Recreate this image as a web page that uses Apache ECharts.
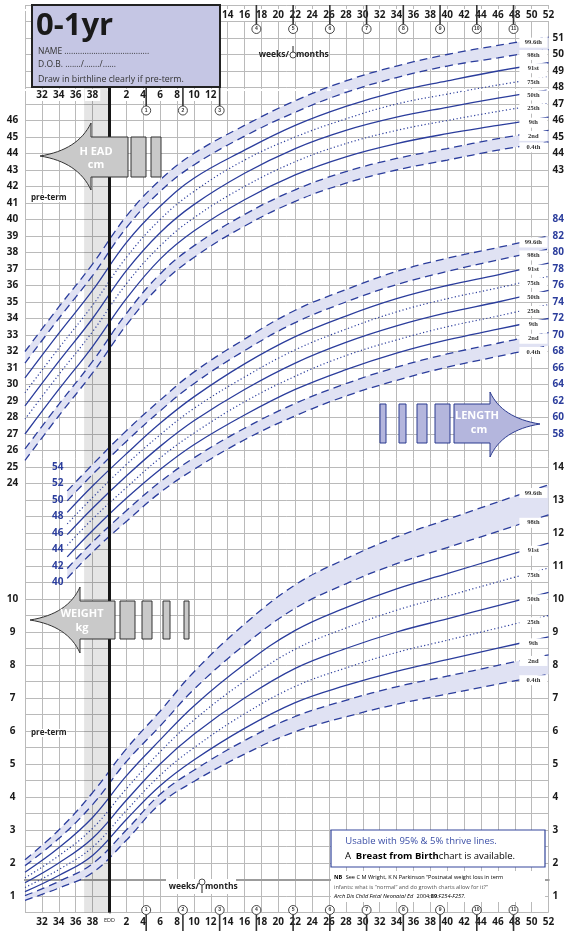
<!DOCTYPE html>
<html>
<head>
<meta charset="utf-8">
<script src="https://cdn.jsdelivr.net/npm/echarts@6/dist/echarts.min.js"></script>
<style>
html,body{margin:0;padding:0;background:#fff}
#chart{width:567px;height:931px}
</style>
</head>
<body>
<div id="chart"></div>
<script>
// Ages in weeks relative to the expected date of delivery (negative = pre-term)
const headWeeks   = [-10, -6, -2, 2, 6, 10, 16, 22, 28, 34, 40, 46, 52];
const lengthWeeks = [-5, -2, 2, 6, 10, 16, 22, 28, 34, 40, 46, 52];
const weightWeeks = [-10, -6, -2, 2, 6, 10, 16, 22, 28, 34, 40, 46, 52];

const centileNames = ['0.4th', '2nd', '9th', '25th', '50th', '75th', '91st', '98th', '99.6th'];

// Head circumference centiles (cm)
const headC04  = [25.4, 28.1, 30.7, 33.6, 36.0, 37.7, 39.6, 41.1, 42.2, 43.0, 43.6, 44.2, 44.7];
const headC2   = [26.1, 28.8, 31.4, 34.3, 36.7, 38.4, 40.3, 41.8, 42.9, 43.7, 44.3, 44.9, 45.4];
const headC9   = [27.0, 29.7, 32.3, 35.2, 37.6, 39.3, 41.2, 42.7, 43.8, 44.6, 45.2, 45.7, 46.2];
const headC25  = [27.9, 30.6, 33.2, 36.1, 38.4, 40.1, 42.0, 43.5, 44.6, 45.4, 46.0, 46.55, 47.05];
const headC50  = [28.7, 31.4, 34.0, 36.9, 39.2, 40.9, 42.8, 44.3, 45.4, 46.2, 46.8, 47.35, 47.85];
const headC75  = [29.5, 32.2, 34.8, 37.7, 40.0, 41.7, 43.6, 45.0, 46.1, 47.0, 47.6, 48.15, 48.65];
const headC91  = [30.4, 33.1, 35.7, 38.6, 40.8, 42.5, 44.2, 45.7, 46.85, 47.75, 48.4, 49.0, 49.5];
const headC98  = [31.3, 34.0, 36.6, 39.5, 41.7, 43.3, 45.05, 46.5, 47.7, 48.6, 49.3, 49.8, 50.3];
const headC996 = [32.0, 34.7, 37.3, 40.2, 42.4, 44.0, 45.7, 47.2, 48.4, 49.3, 50.0, 50.55, 51.05];

// Length centiles (cm)
const lengthC04  = [40.5, 43.7, 47.4, 50.9, 53.7, 57.3, 60.2, 62.6, 64.5, 66.1, 67.4, 68.7];
const lengthC2   = [41.7, 44.9, 48.7, 52.2, 55.1, 58.7, 61.7, 64.1, 66.1, 67.7, 69.0, 70.3];
const lengthC9   = [43.1, 46.3, 50.2, 53.7, 56.7, 60.3, 63.4, 65.8, 67.8, 69.4, 70.7, 72.0];
const lengthC25  = [44.5, 47.7, 51.5, 55.1, 58.1, 61.9, 65.0, 67.5, 69.4, 71.0, 72.3, 73.7];
const lengthC50  = [45.8, 49.0, 52.9, 56.5, 59.6, 63.4, 66.6, 69.1, 71.1, 72.7, 74.0, 75.4];
const lengthC75  = [47.1, 50.3, 54.3, 57.9, 61.1, 64.9, 68.2, 70.7, 72.8, 74.4, 75.7, 77.1];
const lengthC91  = [48.5, 51.7, 55.6, 59.3, 62.5, 66.5, 69.8, 72.3, 74.4, 76.0, 77.3, 78.7];
const lengthC98  = [49.9, 53.1, 57.1, 60.8, 64.1, 68.1, 71.5, 74.0, 76.1, 77.7, 79.1, 80.4];
const lengthC996 = [51.1, 54.3, 58.4, 62.1, 65.5, 69.5, 73.0, 75.5, 77.7, 79.3, 80.6, 82.0];

// Weight centiles (kg)
const weightC04  = [0.87, 1.24, 1.71, 2.69, 3.79, 4.47, 5.30, 5.98, 6.43, 6.81, 7.12, 7.42, 7.72];
const weightC2   = [1.01, 1.44, 1.98, 3.00, 4.08, 4.81, 5.71, 6.44, 6.93, 7.34, 7.66, 7.99, 8.31];
const weightC9   = [1.13, 1.62, 2.23, 3.32, 4.34, 5.12, 6.08, 6.86, 7.38, 7.81, 8.16, 8.51, 8.85];
const weightC25  = [1.26, 1.80, 2.48, 3.59, 4.66, 5.49, 6.52, 7.35, 7.91, 8.38, 8.75, 9.12, 9.50];
const weightC50  = [1.40, 2.00, 2.75, 3.90, 5.00, 5.90, 7.00, 7.90, 8.50, 9.00, 9.40, 9.80, 10.20];
const weightC75  = [1.55, 2.22, 3.05, 4.25, 5.37, 6.33, 7.51, 8.48, 9.12, 9.66, 10.09, 10.52, 10.94];
const weightC91  = [1.72, 2.46, 3.38, 4.64, 5.73, 6.76, 8.02, 9.05, 9.74, 10.31, 10.77, 11.23, 11.69];
const weightC98  = [1.92, 2.74, 3.77, 5.07, 6.15, 7.26, 8.61, 9.72, 10.46, 11.07, 11.56, 12.05, 12.55];
const weightC996 = [2.10, 3.00, 4.13, 5.46, 6.60, 7.79, 9.24, 10.43, 11.22, 11.88, 12.41, 12.94, 13.46];

// Month marks on the week scale
const monthWeeks = [4.35, 8.7, 13.05, 17.4, 21.75, 26.1, 30.45, 34.8, 39.15, 43.5, 47.85];

const BLUE = '#2b3d9c';
const BAND = '#e0e2f3';
const GRID = '#bababa';
const FONT = '"Open Sans", "DejaVu Sans", sans-serif';
const SMOOTH = 0.4;

const lineKinds = ['dashed', 'dashed', 'solid', 'dotted', 'solid', 'dotted', 'solid', 'dashed', 'dashed'];

function pairs(weeks, vals) { return weeks.map((w, i) => [w, vals[i]]); }

function lineStyleFor(kind) {
  if (kind === 'dashed') return { color: BLUE, width: 1.3, type: [8, 5] };
  if (kind === 'dotted') return { color: BLUE, width: 1.2, type: [1.2, 2.4] };
  return { color: BLUE, width: 1.3, type: 'solid' };
}

// Same bezier construction the line series uses for `smooth`, flattened to points
function flattenSmooth(pts, smooth) {
  const out = [pts[0]];
  let cp0 = pts[0].slice();
  for (let k = 1; k < pts.length; k++) {
    const [x, y] = pts[k];
    const [px, py] = pts[k - 1];
    let vx = 0, vy = 0, ratio = 0.5, cp1;
    if (k === pts.length - 1) {
      cp1 = [x, y];
    } else {
      const [nx, ny] = pts[k + 1];
      vx = nx - px; vy = ny - py;
      const l0 = Math.hypot(x - px, y - py), l1 = Math.hypot(nx - x, ny - y);
      ratio = l1 / (l0 + l1);
      cp1 = [x - vx * smooth * (1 - ratio), y - vy * smooth * (1 - ratio)];
    }
    for (let s = 1; s <= 14; s++) {
      const t = s / 14, u = 1 - t;
      out.push([
        u * u * u * px + 3 * u * u * t * cp0[0] + 3 * u * t * t * cp1[0] + t * t * t * x,
        u * u * u * py + 3 * u * u * t * cp0[1] + 3 * u * t * t * cp1[1] + t * t * t * y
      ]);
    }
    cp0 = [x + vx * smooth * ratio, y + vy * smooth * ratio];
  }
  return out;
}

function centileSeries(prefix, weeks, sets, yAxisIndex) {
  const out = [];
  // shaded bands 0.4th-2nd and 98th-99.6th
  out.push({
    type: 'custom', xAxisIndex: 0, yAxisIndex, silent: true, z: 2, clip: true,
    data: [[weeks[0], sets[0][0], 0], [weeks[0], sets[7][0], 1]],
    renderItem(params, api) {
      const [lo, hi] = api.value(2) === 0 ? [sets[0], sets[1]] : [sets[7], sets[8]];
      const upper = flattenSmooth(weeks.map((w, i) => api.coord([w, hi[i]])), SMOOTH);
      const lower = flattenSmooth(weeks.map((w, i) => api.coord([w, lo[i]])), SMOOTH);
      return { type: 'polygon', shape: { points: upper.concat(lower.reverse()) }, style: { fill: BAND } };
    }
  });
  sets.forEach((vals, i) => {
    out.push({
      type: 'line', name: prefix + centileNames[i], xAxisIndex: 0, yAxisIndex, smooth: SMOOTH,
      symbol: 'none', silent: true, z: 3, lineStyle: lineStyleFor(lineKinds[i]), data: pairs(weeks, vals)
    });
  });
  // centile name tags near the right edge
  const tagWeek = 50.2;
  out.push({
    type: 'custom', xAxisIndex: 0, yAxisIndex, silent: true, z: 6,
    data: sets.map((vals, i) => {
      const n = weeks.length;
      const v = vals[n - 2] + (vals[n - 1] - vals[n - 2]) * (tagWeek - weeks[n - 2]) / (weeks[n - 1] - weeks[n - 2]);
      return [tagWeek, v, i];
    }),
    renderItem(params, api) {
      const p = api.coord([api.value(0), api.value(1)]);
      const y = p[1] + 3;
      return {
        type: 'group', children: [
          { type: 'rect', shape: { x: p[0] - 14, y: y - 5, width: 28, height: 10 }, style: { fill: '#fff' } },
          { type: 'text', style: { x: p[0], y: y, text: centileNames[api.value(2)], align: 'center', verticalAlign: 'middle',
              font: 'bold 6.5px "Liberation Serif", serif', fill: '#333' } }
        ]
      };
    }
  });
  return out;
}

const headSets   = [headC04, headC2, headC9, headC25, headC50, headC75, headC91, headC98, headC996];
const lengthSets = [lengthC04, lengthC2, lengthC9, lengthC25, lengthC50, lengthC75, lengthC91, lengthC98, lengthC996];
const weightSets = [weightC04, weightC2, weightC9, weightC25, weightC50, weightC75, weightC91, weightC98, weightC996];

const series = [].concat(
  centileSeries('head', headWeeks, headSets, 0),
  centileSeries('length', lengthWeeks, lengthSets, 2),
  centileSeries('weight', weightWeeks, weightSets, 4)
);

// Term band (37-40 weeks) and the EDD line
series.push({
  type: 'line', xAxisIndex: 0, yAxisIndex: 0, data: [[-10, -5]], symbol: 'none', silent: true, z: 1,
  lineStyle: { opacity: 0 },
  markArea: { silent: true, itemStyle: { color: 'rgba(0,0,0,0.1)' }, data: [[{ xAxis: -3 }, { xAxis: 0 }]] }
});
series.push({
  type: 'line', xAxisIndex: 0, yAxisIndex: 0, data: [[-10, -5]], symbol: 'none', silent: true, z: 5,
  lineStyle: { opacity: 0 },
  markLine: { silent: true, symbol: ['none', 'none'], label: { show: false },
    lineStyle: { color: '#151515', width: 3, type: 'solid' }, data: [{ xAxis: 0 }] }
});

// Month circles: top row (with ticks from the top edge) and bottom row
series.push({
  type: 'custom', xAxisIndex: 0, yAxisIndex: 0, silent: true, z: 7,
  data: monthWeeks.map((w, i) => [w, 0, i + 1]),
  renderItem(params, api) {
    const cs = params.coordSys;
    const x = api.coord([api.value(0), 0])[0];
    const m = api.value(2);
    const top = cs.y, bottom = cs.y + cs.height;
    const r = 4.5;
    const ty = m <= 3 ? top + 105.5 : top + 24;
    const t0 = m <= 3 ? top + 82 : top;
    const by = bottom - 2.5;
    const circ = (cy) => [
      { type: 'circle', shape: { cx: x, cy: cy, r: r }, style: { fill: '#fff', stroke: '#333', lineWidth: 0.9 } },
      { type: 'text', style: { x: x, y: cy, text: String(m), align: 'center', verticalAlign: 'middle', font: 'bold 5px sans-serif', fill: '#333' } }
    ];
    return {
      type: 'group', children: [
        { type: 'line', shape: { x1: x, y1: t0, x2: x, y2: ty - r }, style: { stroke: '#333', lineWidth: 1.6 } },
        { type: 'line', shape: { x1: x, y1: by + r, x2: x, y2: bottom + 20 }, style: { stroke: '#333', lineWidth: 1.6 } }
      ].concat(circ(ty), circ(by))
    };
  }
});

// Arrow outline: concave head (quadratic edges) + body
function quad(p0, c, p1, n) {
  const pts = [];
  for (let i = 0; i <= n; i++) {
    const s = i / n, a = (1 - s) * (1 - s), b = 2 * (1 - s) * s, d = s * s;
    pts.push([a * p0[0] + b * c[0] + d * p1[0], a * p0[1] + b * c[1] + d * p1[1]]);
  }
  return pts;
}
function arrowPoints(tip, dir, barbX, barbTop, barbBot, bodyEnd, bodyTop, bodyBot, ctrlDx, ctrlDy) {
  const cx = tip[0] + dir * ctrlDx;
  const upper = quad(tip, [cx, tip[1] - ctrlDy], [barbX, barbTop], 16);
  const lower = quad([barbX, barbBot], [cx, tip[1] + ctrlDy], tip, 16);
  return upper.concat([[barbX, bodyTop], [bodyEnd, bodyTop], [bodyEnd, bodyBot], [barbX, bodyBot]], lower);
}

const labelBase = { fontFamily: FONT, fontWeight: 'bold', fontSize: 10, color: '#1a1a1a' };
const greyArrow = { fill: '#c9c9c9', stroke: '#333', lineWidth: 1 };
const blueArrow = { fill: '#b4b6dd', stroke: '#2b3a8f', lineWidth: 1 };
function box(x, y, w, h, style) { return { type: 'rect', z: 10, shape: { x, y, width: w, height: h }, style }; }
function txt(x, y, text, font, fill, extra) {
  return { type: 'text', z: 11, style: Object.assign({ x, y, text, font, fill, verticalAlign: 'middle' }, extra || {}) };
}

const option = {
  animation: false,
  backgroundColor: '#fff',
  grid: { left: 25, right: 15, top: 5, bottom: 18.5, containLabel: false },
  xAxis: [
    { type: 'value', position: 'bottom', min: -10, max: 52, interval: 2,
      axisLine: { show: true, lineStyle: { color: '#9c9c9c', width: 2 } }, axisTick: { show: false },
      splitLine: { show: true, lineStyle: { color: GRID, width: 1 } },
      axisLabel: Object.assign({}, labelBase, { margin: 5,
        formatter: v => v === -10 ? '' : v < 0 ? String(40 + v) : v === 0 ? '{e|EDD}' : String(v),
        rich: { e: { fontSize: 5.5, fontWeight: 'normal', fontFamily: FONT, color: '#222' } } }) },
    { type: 'value', position: 'top', min: -10, max: 52, interval: 2,
      axisLine: { show: true, lineStyle: { color: '#9c9c9c', width: 2 } }, axisTick: { show: false }, splitLine: { show: false },
      axisLabel: Object.assign({}, labelBase, { inside: true, margin: 4, backgroundColor: '#fff', padding: [1, 2],
        formatter: v => v >= 14 ? String(v) : '' }) },
    { type: 'value', position: 'top', min: -10, max: 52, interval: 2, z: 4,
      axisLine: { show: false }, axisTick: { show: false }, splitLine: { show: false },
      axisLabel: Object.assign({}, labelBase, { inside: true, margin: 84, backgroundColor: '#fff', padding: [1, 2],
        formatter: v => (v >= -8 && v <= -2) ? String(40 + v) : (v >= 2 && v <= 12) ? String(v) : '' }) }
  ],
  yAxis: [
    // head circumference, cm
    { type: 'value', position: 'left', min: -2, max: 53, interval: 1,
      axisLine: { show: true, lineStyle: { color: '#9c9c9c', width: 2 } }, axisTick: { show: false },
      splitLine: { show: true, lineStyle: { color: GRID, width: 1 } },
      axisLabel: Object.assign({}, labelBase, { margin: 12.5, align: 'center',
        formatter: v => (v >= 24 && v <= 46) ? String(v) : '' }) },
    { type: 'value', position: 'right', min: -2, max: 53, interval: 1,
      axisLine: { show: true, lineStyle: { color: '#9c9c9c', width: 2 } }, axisTick: { show: false }, splitLine: { show: false },
      axisLabel: Object.assign({}, labelBase, { margin: 4, formatter: v => (v >= 43 && v <= 51) ? String(v) : '' }) },
    // length, cm
    { type: 'value', position: 'left', min: 0, max: 110, interval: 2,
      axisLine: { show: false }, axisTick: { show: false }, splitLine: { show: false },
      axisLabel: Object.assign({}, labelBase, { color: BLUE, inside: true, margin: 27,
        formatter: v => (v >= 40 && v <= 54) ? String(v) : '' }) },
    { type: 'value', position: 'right', min: 0, max: 110, interval: 2,
      axisLine: { show: false }, axisTick: { show: false }, splitLine: { show: false },
      axisLabel: Object.assign({}, labelBase, { color: BLUE, margin: 4,
        formatter: v => (v >= 58 && v <= 84) ? String(v) : '' }) },
    // weight, kg
    { type: 'value', position: 'left', min: 0.5, max: 28, interval: 0.5,
      axisLine: { show: false }, axisTick: { show: false }, splitLine: { show: false },
      axisLabel: Object.assign({}, labelBase, { margin: 12.5, align: 'center',
        formatter: v => (Number.isInteger(v) && v >= 1 && v <= 10) ? String(v) : '' }) },
    { type: 'value', position: 'right', min: 0.5, max: 28, interval: 0.5,
      axisLine: { show: false }, axisTick: { show: false }, splitLine: { show: false },
      axisLabel: Object.assign({}, labelBase, { margin: 4,
        formatter: v => (Number.isInteger(v) && v >= 1 && v <= 14) ? String(v) : '' }) }
  ],
  series: series,
  graphic: [
    // title panel
    { type: 'rect', z: 20, shape: { x: 32, y: 5, width: 188, height: 82 },
      style: { fill: '#c5c6e4', stroke: '#222', lineWidth: 2 } },
    { type: 'text', z: 21, style: { x: 36, y: 26, text: '0-1yr', verticalAlign: 'middle',
        font: 'bold 31px "Open Sans", sans-serif', fill: '#1a1a1a' } },
    { type: 'text', z: 21, style: { x: 38, y: 52, text: 'NAME ......................................', verticalAlign: 'middle',
        font: '8.5px "Open Sans", sans-serif', fill: '#333' } },
    { type: 'text', z: 21, style: { x: 38, y: 65, text: 'D.O.B. ......./......./......', verticalAlign: 'middle',
        font: '8.5px "Open Sans", sans-serif', fill: '#333' } },
    { type: 'text', z: 21, style: { x: 38, y: 79, text: 'Draw in birthline clearly if pre-term.', verticalAlign: 'middle',
        font: '8.8px "Open Sans", sans-serif', fill: '#333' } },

    // weeks / months key, top and bottom
    txt(289, 55, 'weeks/', 'bold 8.5px "Open Sans", sans-serif', '#222', { align: 'right' }),
    { type: 'line', z: 11, shape: { x1: 293, y1: 46, x2: 293, y2: 52 }, style: { stroke: '#222', lineWidth: 1 } },
    { type: 'circle', z: 11, shape: { cx: 293, cy: 55, r: 3 }, style: { fill: '#fff', stroke: '#222', lineWidth: 0.8 } },
    txt(296, 55, 'months', 'bold 8.5px "Open Sans", sans-serif', '#222'),
    { type: 'rect', z: 9, shape: { x: 166, y: 879, width: 70, height: 15 }, style: { fill: '#fff' } },
    txt(199, 887, 'weeks/', 'bold 8.5px "Open Sans", sans-serif', '#222', { align: 'right' }),
    { type: 'circle', z: 11, shape: { cx: 202, cy: 882, r: 3 }, style: { fill: '#fff', stroke: '#222', lineWidth: 0.8 } },
    { type: 'line', z: 11, shape: { x1: 202, y1: 885, x2: 202, y2: 893 }, style: { stroke: '#222', lineWidth: 1 } },
    txt(205, 887, 'months', 'bold 8.5px "Open Sans", sans-serif', '#222'),

    // pre-term notes
    txt(31, 198, 'pre-term', 'bold 8px "Open Sans", sans-serif', '#222', { backgroundColor: '#fff' }),
    txt(31, 733, 'pre-term', 'bold 8px "Open Sans", sans-serif', '#222', { backgroundColor: '#fff' }),

    // HEAD arrow
    { type: 'polygon', z: 10, shape: { points: arrowPoints([40, 156], 1, 91, 123, 190, 128, 137, 177, 38, 6) }, style: greyArrow },
    box(131, 137, 15, 40, greyArrow),
    box(151, 137, 10, 40, greyArrow),
    txt(96, 152, 'H EAD', 'bold 11px "Open Sans", sans-serif', '#fff', { align: 'center' }),
    txt(96, 165, 'cm', 'bold 11px "Open Sans", sans-serif', '#fff', { align: 'center' }),

    // WEIGHT arrow
    { type: 'polygon', z: 10, shape: { points: arrowPoints([30, 620], 1, 80, 587, 653, 115, 601, 639, 38, 6) }, style: greyArrow },
    box(120, 601, 15, 38, greyArrow),
    box(142, 601, 10, 38, greyArrow),
    box(163, 601, 7, 38, greyArrow),
    box(184, 601, 5, 38, greyArrow),
    txt(82, 614, 'WEIGHT', 'bold 11px "Open Sans", sans-serif', '#fff', { align: 'center' }),
    txt(82, 628, 'kg', 'bold 11px "Open Sans", sans-serif', '#fff', { align: 'center' }),

    // LENGTH arrow
    { type: 'polygon', z: 10, shape: { points: arrowPoints([540, 424], -1, 490, 392, 457, 454, 404, 443, 38, 6) }, style: blueArrow },
    box(435, 404, 15, 39, blueArrow),
    box(417, 404, 10, 39, blueArrow),
    box(399, 404, 7, 39, blueArrow),
    box(380, 404, 6, 39, blueArrow),
    txt(477, 416, 'LENGTH', 'bold 11px "Open Sans", sans-serif', '#fff', { align: 'center' }),
    txt(479, 430, 'cm', 'bold 11px "Open Sans", sans-serif', '#fff', { align: 'center' }),

    // note panel
    box(331, 830, 214, 37, { fill: '#fff', stroke: '#34469b', lineWidth: 1.2 }),
    txt(421, 841, 'Usable with 95% & 5% thrive lines.', '9.5px "Open Sans", sans-serif', '#3a4ea6', { align: 'center' }),
    { type: 'text', z: 11, style: { x: 430, y: 856, align: 'center', verticalAlign: 'middle',
        text: '{n|A  }{b|Breast from Birth}{n|chart is available.}',
        rich: { n: { fontFamily: FONT, fontSize: 9.5, color: '#3a4ea6' }, b: { fontFamily: FONT, fontSize: 9.5, fontWeight: 'bold', color: '#3a4ea6' } } } },
    box(331, 871, 214, 31, { fill: '#fff' }),
    { type: 'text', z: 11, style: { x: 334, y: 877, verticalAlign: 'middle',
        text: '{b|NB} {n|See C M Wright, K N Parkinson \u201cPostnatal weight loss in term}',
        rich: { n: { fontFamily: FONT, fontSize: 5.6, color: '#555' }, b: { fontFamily: FONT, fontSize: 5.6, fontWeight: 'bold', color: '#333' } } } },
    txt(334, 887, 'infants: what is \u201cnormal\u201d and do growth charts allow for it?\u201d', '5.6px "Open Sans", sans-serif', '#555'),
    { type: 'text', z: 11, style: { x: 334, y: 896, verticalAlign: 'middle',
        text: '{i|Arch Dis Child Fetal Neonatal Ed} {n|2004;}{b|89}{i|:F254-F257.}',
        rich: { n: { fontFamily: FONT, fontSize: 5.6, color: '#555' }, i: { fontFamily: FONT, fontSize: 5.6, fontStyle: 'italic', color: '#555' },
                b: { fontFamily: FONT, fontSize: 5.6, fontWeight: 'bold', color: '#333' } } } }
  ]
};

const chart = echarts.init(document.getElementById('chart'), null, { renderer: 'canvas', width: 567, height: 931 });
chart.setOption(option);
</script>
</body>
</html>
